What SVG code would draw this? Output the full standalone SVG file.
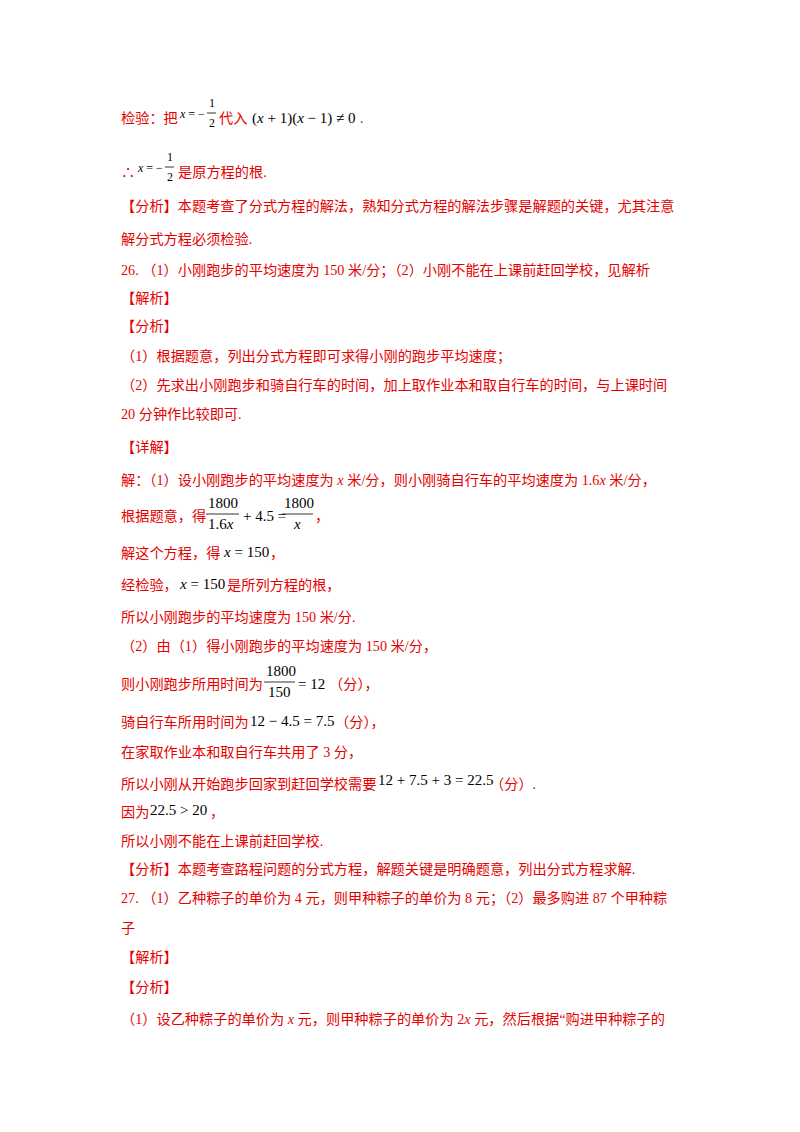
<svg xmlns="http://www.w3.org/2000/svg" width="800" height="1132" viewBox="0 0 800 1132">
<style>
.r{fill:#e60000;font-family:"Liberation Serif","Noto Sans CJK SC",serif;font-size:14.2px}
.m{fill:#000;font-family:"Liberation Serif",serif;font-size:15px}
.i{font-style:italic}
.s{font-size:12px}
line{stroke:#000;stroke-width:0.8}
</style>
<rect width="800" height="1132" fill="#fff"/>
<text class="r" x="121" y="123">检验：把</text>
<text class="m s" x="180" y="118"><tspan class="i">x</tspan> = −</text>
<text class="m s" x="209" y="107">1</text><line x1="207" y1="113" x2="216" y2="113"/><text class="m s" x="209" y="127">2</text>
<text class="r" x="219" y="123">代入</text>
<text class="m" x="252" y="123">(<tspan class="i">x</tspan> + 1)(<tspan class="i">x</tspan> − 1) ≠ 0</text>
<text class="r" x="360" y="123">.</text>
<text class="r" x="121" y="177">∴</text>
<text class="m s" x="138" y="172"><tspan class="i">x</tspan> = −</text>
<text class="m s" x="167" y="161">1</text><line x1="165" y1="167" x2="174" y2="167"/><text class="m s" x="167" y="181">2</text>
<text class="r" x="178" y="177">是原方程的根.</text>
<text class="r" x="121" y="211">【分析】本题考查了分式方程的解法，熟知分式方程的解法步骤是解题的关键，尤其注意</text>
<text class="r" x="121" y="244">解分式方程必须检验.</text>
<text class="r" x="121" y="275">26. （1）小刚跑步的平均速度为 150 米/分；（2）小刚不能在上课前赶回学校，见解析</text>
<text class="r" x="121" y="303">【解析】</text>
<text class="r" x="121" y="331">【分析】</text>
<text class="r" x="121" y="361">（1）根据题意，列出分式方程即可求得小刚的跑步平均速度；</text>
<text class="r" x="121" y="390">（2）先求出小刚跑步和骑自行车的时间，加上取作业本和取自行车的时间，与上课时间</text>
<text class="r" x="121" y="419">20 分钟作比较即可.</text>
<text class="r" x="121" y="452">【详解】</text>
<text class="r" x="121" y="485">解：（1）设小刚跑步的平均速度为 <tspan class="i">x</tspan> 米/分，则小刚骑自行车的平均速度为 1.6<tspan class="i">x</tspan> 米/分，</text>
<text class="r" x="121" y="521">根据题意，得</text>
<text class="m" x="208" y="508">1800</text><line x1="206" y1="514" x2="239" y2="514"/><text class="m" x="208" y="529">1.6<tspan class="i">x</tspan></text>
<text class="m" x="243" y="521">+ 4.5 =</text>
<text class="m" x="284" y="508">1800</text><line x1="282" y1="514" x2="313" y2="514"/><text class="m i" x="294" y="529">x</text>
<text class="r" x="315" y="521">，</text>
<text class="r" x="121" y="558">解这个方程，得</text><text class="m" x="224" y="557"><tspan class="i">x</tspan> = 150</text><text class="r" x="270" y="558">，</text>
<text class="r" x="121" y="590">经检验，</text><text class="m" x="180" y="589"><tspan class="i">x</tspan> = 150</text><text class="r" x="227" y="590">是所列方程的根，</text>
<text class="r" x="121" y="622">所以小刚跑步的平均速度为 150 米/分.</text>
<text class="r" x="121" y="651">（2）由（1）得小刚跑步的平均速度为 150 米/分，</text>
<text class="r" x="121" y="689">则小刚跑步所用时间为</text>
<text class="m" x="266" y="676">1800</text><line x1="264" y1="682" x2="295" y2="682"/><text class="m" x="268" y="697">150</text>
<text class="m" x="298" y="689">= 12</text><text class="r" x="329" y="689">（分），</text>
<text class="r" x="121" y="727">骑自行车所用时间为</text><text class="m" x="250" y="726">12 − 4.5 = 7.5</text><text class="r" x="335" y="727">（分），</text>
<text class="r" x="121" y="757">在家取作业本和取自行车共用了 3 分，</text>
<text class="r" x="121" y="789">所以小刚从开始跑步回家到赶回学校需要</text><text class="m" x="378" y="785">12 + 7.5 + 3 = 22.5</text><text class="r" x="490" y="789">（分）.</text>
<text class="r" x="121" y="817">因为</text><text class="m" x="150" y="815">22.5 &gt; 20</text><text class="r" x="210" y="817">，</text>
<text class="r" x="121" y="846">所以小刚不能在上课前赶回学校.</text>
<text class="r" x="121" y="874">【分析】本题考查路程问题的分式方程，解题关键是明确题意，列出分式方程求解.</text>
<text class="r" x="121" y="903">27. （1）乙种粽子的单价为 4 元，则甲种粽子的单价为 8 元；（2）最多购进 87 个甲种粽</text>
<text class="r" x="121" y="933">子</text>
<text class="r" x="121" y="962">【解析】</text>
<text class="r" x="121" y="992">【分析】</text>
<text class="r" x="121" y="1024">（1）设乙种粽子的单价为 <tspan class="i">x</tspan> 元，则甲种粽子的单价为 2<tspan class="i">x</tspan> 元，然后根据“购进甲种粽子的</text>
</svg>
